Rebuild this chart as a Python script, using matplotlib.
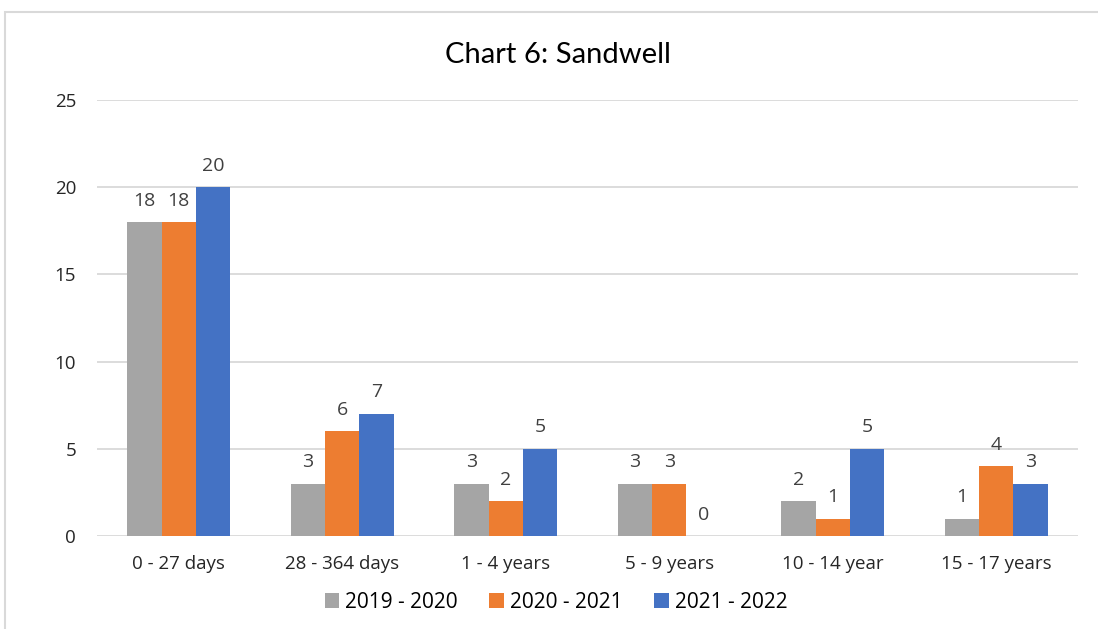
import numpy as np
import matplotlib.pyplot as plt
from matplotlib.patches import Rectangle

plt.rcParams['font.family'] = ['Open Sans', 'DejaVu Sans']

categories = ['0 - 27 days', '28 - 364 days', '1 - 4 years', '5 - 9 years', '10 - 14 year', '15 - 17 years']
series_names = ['2019 - 2020', '2020 - 2021', '2021 - 2022']
vals_2019 = [18, 3, 3, 3, 2, 1]
vals_2020 = [18, 6, 2, 3, 1, 4]
vals_2021 = [20, 7, 5, 0, 5, 3]
colors = ['#a5a5a5', '#ed7d31', '#4472c4']

fig = plt.figure(figsize=(10.98, 6.29), dpi=100)
ax = fig.add_axes([97 / 1098, 93 / 629, 981 / 1098, 436 / 629])

# outer chart border (light grey, partly cut off at right and bottom)
fig.patches.append(Rectangle((5 / 1098, -0.1), 1.2, (629 - 12) / 629 + 0.1,
                             transform=fig.transFigure, fill=False,
                             edgecolor='#d9d9d9', linewidth=1.5))

x = np.arange(len(categories))
width = 0.21
for i, (vals, name) in enumerate(zip([vals_2019, vals_2020, vals_2021], series_names)):
    bars = ax.bar(x + (i - 1) * width, vals, width, color=colors[i], label=name, zorder=3)
    for b, v in zip(bars, vals):
        ax.annotate(str(v), (b.get_x() + b.get_width() / 2, v),
                    xytext=(0, 9), textcoords='offset points',
                    ha='center', va='bottom', fontsize=14, color='#404040')

ax.set_xlim(-0.5, len(categories) - 0.5)
ax.set_ylim(0, 25)
ax.set_yticks([0, 5, 10, 15, 20, 25])
ax.set_xticks(x)
ax.set_xticklabels(categories)
ax.tick_params(axis='both', length=0, labelsize=13.5, colors='#262626')
ax.tick_params(axis='y', pad=15)
ax.tick_params(axis='x', pad=14)
ax.grid(axis='y', color='#d9d9d9', linewidth=1.3, zorder=0)
for s in ax.spines.values():
    s.set_visible(False)

fig.text(558 / 1098, 1 - 55 / 629, 'Chart 6: Sandwell', ha='center', va='center',
         fontsize=21, color='#000000', family=['Lato', 'DejaVu Sans'])

fig.legend(loc='center', bbox_to_anchor=(556 / 1098, 1 - 602 / 629), ncol=3,
           frameon=False, fontsize=15, handlelength=0.7, handleheight=0.7,
           handletextpad=0.3, columnspacing=1.5)

fig.savefig('out.png', dpi=100)
